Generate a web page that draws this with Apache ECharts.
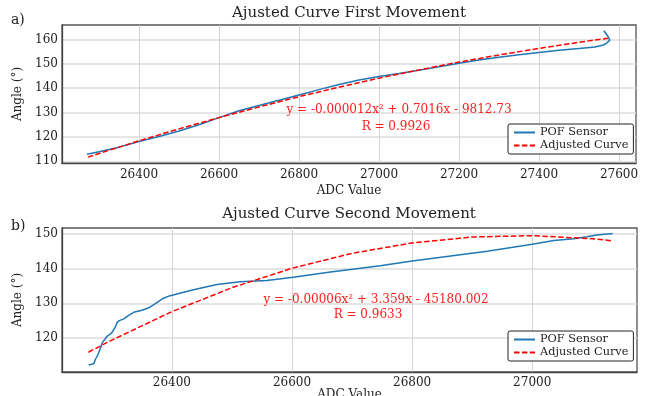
<!DOCTYPE html>
<html>
<head>
<meta charset="utf-8">
<script src="https://cdn.jsdelivr.net/npm/echarts@6/dist/echarts.min.js"></script>
<style>
  html, body { margin: 0; padding: 0; background: #fff; }
  #chart { width: 650px; height: 396px; }
</style>
</head>
<body>
<div id="chart"></div>
<script>
// a) first movement
const pofXa = [26270, 26300, 26350, 26400, 26450, 26500, 26550, 26600, 26650, 26700, 26750, 26800, 26850, 26900, 26950, 27000, 27050, 27100, 27150, 27200, 27250, 27300, 27350, 27400, 27450, 27500, 27540, 27561, 27570, 27577, 27573, 27565, 27562];
const pofYa = [112.9, 113.9, 115.8, 118.1, 120.2, 122.4, 125.0, 127.9, 130.7, 132.9, 135.0, 137.2, 139.4, 141.5, 143.3, 144.8, 146.0, 147.3, 148.8, 150.2, 151.5, 152.7, 153.7, 154.6, 155.5, 156.3, 156.9, 157.7, 158.6, 159.7, 161.1, 162.9, 163.6];
const fitXa = [26272, 26300, 26400, 26500, 26600, 26700, 26800, 26900, 27000, 27100, 27200, 27300, 27400, 27500, 27573];
const fitYa = [111.7, 113.2, 118.4, 123.3, 127.9, 132.3, 136.5, 140.4, 144.1, 147.5, 150.7, 153.6, 156.3, 158.8, 160.5];

// b) second movement
const pofXb = [26261.5, 26270, 26272.5, 26275, 26277, 26279, 26282.5, 26284, 26292, 26299, 26305, 26309, 26312.5, 26320, 26328, 26336.5, 26350, 26361.5, 26372.5, 26384, 26397, 26436, 26475, 26514, 26558, 26602, 26664, 26747, 26800, 26925, 27000, 27036, 27069, 27091, 27108, 27134];
const pofYb = [112.2, 112.6, 113.8, 114.6, 115.3, 116.2, 117.8, 118.6, 120.5, 121.3, 122.9, 124.5, 125.0, 125.5, 126.5, 127.4, 128.0, 128.7, 129.9, 131.3, 132.2, 133.9, 135.4, 136.2, 136.6, 137.5, 139.0, 140.8, 142.2, 145.0, 147.0, 148.1, 148.6, 149.2, 149.7, 150.1];
const fitXb = [26261, 26300, 26400, 26500, 26600, 26700, 26800, 26900, 27000, 27100, 27134];
const fitYb = [115.9, 119.4, 127.6, 134.5, 140.1, 144.4, 147.4, 149.1, 149.5, 148.6, 148.0];

// ticks
const xTicksA = [26400, 26600, 26800, 27000, 27200, 27400, 27600];
const yTicksA = [110, 120, 130, 140, 150, 160];
const xTicksB = [26400, 26600, 26800, 27000];
const yTicksB = [120, 130, 140, 150];

const FONT = "DejaVu Serif";
const pairs = (xs, ys) => xs.map((x, i) => [x, ys[i]]);

function xAxisOf(gridIndex, min, max, ticks, gap, margin) {
  return {
    type: "value", gridIndex: gridIndex, min: min, max: max,
    name: "ADC Value", nameLocation: "middle", nameGap: gap, nameMoveOverlap: false,
    nameTextStyle: { fontFamily: FONT, fontSize: 12, color: "#222", verticalAlign: "top" },
    axisLine: { show: true, onZero: false, lineStyle: { color: "#444", width: 1.3 } },
    axisTick: { show: false, customValues: ticks },
    axisLabel: { customValues: ticks, margin: margin, fontFamily: FONT, fontSize: 12, color: "#222", formatter: (v) => String(v) },
    splitLine: { show: true, lineStyle: { color: "#d4d4d4", width: 1 } },
  };
}
function yAxisOf(gridIndex, min, max, ticks) {
  return {
    type: "value", gridIndex: gridIndex, min: min, max: max,
    name: "Angle (°)", nameLocation: "middle", nameGap: 36, nameRotate: 90,
    nameTextStyle: { fontFamily: FONT, fontSize: 12, color: "#222" },
    axisLine: { show: true, onZero: false, lineStyle: { color: "#444", width: 1.3 } },
    axisTick: { show: false, customValues: ticks },
    axisLabel: { customValues: ticks, margin: 4, fontFamily: FONT, fontSize: 12, color: "#222", formatter: (v) => String(v) },
    splitLine: { show: true, lineStyle: { color: "#dcdcdc", width: 1.5 } },
  };
}
function legendOf(top) {
  return {
    orient: "vertical", left: 508, top: top,
    data: ["POF Sensor", "Adjusted Curve"],
    itemWidth: 21, itemHeight: 12, itemGap: 2,
    padding: [3, 5], backgroundColor: "#fff",
    borderColor: "#222", borderWidth: 1, borderRadius: 2,
    itemStyle: { opacity: 0 },
    textStyle: { fontFamily: FONT, fontSize: 11.3, color: "#222" },
  };
}
const pofStyle = { color: "#1f77b4", width: 1.5 };
const fitStyle = { color: "#ff0000", width: 1.5, type: [5.5, 2.4] };

function txt(x, y, text, size, color, align) {
  return {
    type: "text", x: x, y: y, z: 100, silent: true,
    style: { text: text, font: size + "px '" + FONT + "'", fill: color, align: align || "center", verticalAlign: "middle" },
  };
}

const chart = echarts.init(document.getElementById("chart"));
chart.setOption({
  animation: false,
  grid: [
    { left: 62, right: 14, top: 25, height: 138, show: true, borderColor: "#555", borderWidth: 1.3, outerBoundsMode: "none" },
    { left: 62, right: 13, top: 228, height: 144, show: true, borderColor: "#555", borderWidth: 1.3, outerBoundsMode: "none" },
  ],
  xAxis: [
    xAxisOf(0, 26207.5, 27642.5, xTicksA, 22, 6),
    xAxisOf(1, 26217, 27174.5, xTicksB, 17, 5),
  ],
  yAxis: [
    yAxisOf(0, 109.3, 165.9, yTicksA),
    yAxisOf(1, 110.2, 151.7, yTicksB),
  ],
  legend: [legendOf(124), legendOf(331)],
  series: [
    { name: "POF Sensor", type: "line", xAxisIndex: 0, yAxisIndex: 0, symbol: "none", lineStyle: pofStyle, itemStyle: { color: "#1f77b4" }, data: pairs(pofXa, pofYa), z: 3 },
    { name: "Adjusted Curve", type: "line", xAxisIndex: 0, yAxisIndex: 0, symbol: "none", lineStyle: fitStyle, itemStyle: { color: "#ff0000" }, data: pairs(fitXa, fitYa), z: 4 },
    { name: "POF Sensor", type: "line", xAxisIndex: 1, yAxisIndex: 1, symbol: "none", lineStyle: pofStyle, itemStyle: { color: "#1f77b4" }, data: pairs(pofXb, pofYb), z: 3 },
    { name: "Adjusted Curve", type: "line", xAxisIndex: 1, yAxisIndex: 1, symbol: "none", lineStyle: fitStyle, itemStyle: { color: "#ff0000" }, data: pairs(fitXb, fitYb), z: 4 },
  ],
  graphic: [
    txt(349, 13, "Ajusted Curve First Movement", 15, "#222"),
    txt(349, 214, "Ajusted Curve Second Movement", 15, "#222"),
    txt(11, 20, "a)", 14, "#222", "left"),
    txt(11, 226, "b)", 14, "#222", "left"),
    txt(399, 110, "y = -0.000012x² + 0.7016x - 9812.73", 12, "#ff2020"),
    txt(396, 127, "R = 0.9926", 12, "#ff2020"),
    txt(376, 300, "y = -0.00006x² + 3.359x - 45180.002", 12, "#ff2020"),
    txt(368, 315, "R = 0.9633", 12, "#ff2020"),
  ],
});
</script>
</body>
</html>
